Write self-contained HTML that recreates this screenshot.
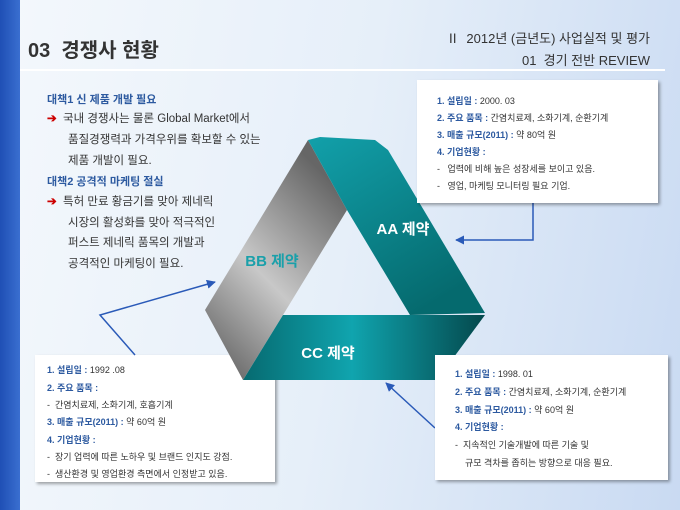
<!DOCTYPE html>
<html><head><meta charset="utf-8"><style>
body{margin:0;width:680px;height:510px;overflow:hidden;font-family:"Liberation Sans","Noto Sans CJK KR",sans-serif;}
#bg{position:absolute;left:0;top:0;width:680px;height:510px;background:linear-gradient(100deg,#f4f8fc 0%,#e6eff9 50%,#c9daf2 100%);}
.strip{position:absolute;left:0;top:0;width:20px;height:510px;background:linear-gradient(90deg,#1f4fb5,#3a6fd0);}
.t{position:absolute;white-space:nowrap;}
.box{position:absolute;background:#fff;box-shadow:2px 2px 3px rgba(0,0,0,.35);}
.box div{position:absolute;white-space:nowrap;font-size:9px;color:#333;}
b.k{color:#2d5aa0;}
.lt{font-size:11.5px;color:#333;}
.lh{font-size:11px;color:#2d5aa0;font-weight:bold;}
</style></head><body>
<div id="bg"></div>
<div class="strip"></div>
<div class="t" style="left:28px;top:34px;font-size:20px;color:#333;font-weight:bold;">03&nbsp;&nbsp;경쟁사 현황</div>
<div class="t" style="right:30px;top:28px;font-size:13px;color:#333;">Ⅱ&nbsp; 2012년 (금년도) 사업실적 및 평가</div>
<div class="t" style="right:30px;top:50px;font-size:13px;color:#333;">01&nbsp; 경기 전반 REVIEW</div>
<div style="position:absolute;left:20px;top:69px;width:645px;height:2px;background:#fff;"></div>

<div class="t lh" style="left:47px;top:91px;">대책1 신 제품 개발 필요</div>
<div class="t lt" style="left:47px;top:110px;"><span style="color:#c00;font-weight:bold;">➔</span>&nbsp; 국내 경쟁사는 물론 Global Market에서</div>
<div class="t lt" style="left:68px;top:131px;">품질경쟁력과 가격우위를 확보할 수 있는</div>
<div class="t lt" style="left:68px;top:152px;">제품 개발이 필요.</div>
<div class="t lh" style="left:47px;top:173px;">대책2 공격적 마케팅 절실</div>
<div class="t lt" style="left:47px;top:193px;"><span style="color:#c00;font-weight:bold;">➔</span>&nbsp; 특허 만료 황금기를 맞아 제네릭</div>
<div class="t lt" style="left:68px;top:214px;">시장의 활성화를 맞아 적극적인</div>
<div class="t lt" style="left:68px;top:234px;">퍼스트 제네릭 품목의 개발과</div>
<div class="t lt" style="left:68px;top:255px;">공격적인 마케팅이 필요.</div>

<div class="box" style="left:35px;top:355px;width:240px;height:127px;">
<div style="left:12px;top:8px;"><b class="k">1. 설립일 :</b> 1992 .08</div>
<div style="left:12px;top:26px;"><b class="k">2. 주요 품목 :</b></div>
<div style="left:12px;top:43px;">-&nbsp; 간염치료제, 소화기계, 호흡기계</div>
<div style="left:12px;top:60px;"><b class="k">3. 매출 규모(2011) :</b> 약 60억 원</div>
<div style="left:12px;top:78px;"><b class="k">4. 기업현황 :</b></div>
<div style="left:12px;top:95px;">-&nbsp; 장기 업력에 따른 노하우 및 브랜드 인지도 강점.</div>
<div style="left:12px;top:112px;">-&nbsp; 생산환경 및 영업환경 측면에서 인정받고 있음.</div>
</div>

<svg style="position:absolute;left:0;top:0" width="680" height="510">
<defs>
<linearGradient id="g" x1="0" y1="1" x2="0.6" y2="0"><stop offset="0" stop-color="#555"/><stop offset="0.5" stop-color="#c8c8c8"/><stop offset="1" stop-color="#666"/></linearGradient>
<linearGradient id="a" x1="0" y1="0" x2="0.6" y2="1"><stop offset="0" stop-color="#12a0aa"/><stop offset="1" stop-color="#056a6e"/></linearGradient>
<linearGradient id="c" x1="0" y1="0" x2="1" y2="0"><stop offset="0" stop-color="#066a70"/><stop offset="0.45" stop-color="#10a4ae"/><stop offset="1" stop-color="#04484c"/></linearGradient>
<marker id="m" viewBox="0 0 10 10" refX="9" refY="5" markerWidth="6" markerHeight="6" orient="auto"><path d="M0,0L10,5L0,10z" fill="#2a5ab8"/></marker>
</defs>
<polygon points="308,140 347,210 283,315 243,380 205,310" fill="url(#g)"/>
<polygon points="308,140 320,137 375,140 388,150 485,313 410,315 347,210" fill="url(#a)"/>
<polygon points="283,315 485,315 437,380 243,380" fill="url(#c)"/>
<polyline points="533,203 533,240 456,240" fill="none" stroke="#2a5ab8" stroke-width="1.5" marker-end="url(#m)"/>
<polyline points="135,355 100,315 215,282" fill="none" stroke="#2a5ab8" stroke-width="1.5" marker-end="url(#m)"/>
<line x1="435" y1="428" x2="386" y2="383" stroke="#2a5ab8" stroke-width="1.5" marker-end="url(#m)"/>
<text x="403" y="234" fill="#fff" font-size="15" font-weight="bold" text-anchor="middle" font-family="Liberation Sans,Noto Sans CJK KR,sans-serif">AA 제약</text>
<text x="272" y="266" fill="#1aa0aa" font-size="15" font-weight="bold" text-anchor="middle" font-family="Liberation Sans,Noto Sans CJK KR,sans-serif">BB 제약</text>
<text x="328" y="358" fill="#fff" font-size="15" font-weight="bold" text-anchor="middle" font-family="Liberation Sans,Noto Sans CJK KR,sans-serif">CC 제약</text>
</svg>

<div class="box" style="left:417px;top:80px;width:241px;height:123px;">
<div style="left:20px;top:14px;"><b class="k">1. 설립일 :</b> 2000. 03</div>
<div style="left:20px;top:31px;"><b class="k">2. 주요 품목 :</b> 간염치료제, 소화기계, 순환기계</div>
<div style="left:20px;top:48px;"><b class="k">3. 매출 규모(2011) :</b> 약 80억 원</div>
<div style="left:20px;top:65px;"><b class="k">4. 기업현황 :</b></div>
<div style="left:20px;top:82px;">-&nbsp;&nbsp; 업력에 비해 높은 성장세를 보이고 있음.</div>
<div style="left:20px;top:99px;">-&nbsp;&nbsp; 영업, 마케팅 모니터링 필요 기업.</div>
</div>

<div class="box" style="left:435px;top:355px;width:233px;height:125px;">
<div style="left:20px;top:12px;"><b class="k">1. 설립일 :</b> 1998. 01</div>
<div style="left:20px;top:30px;"><b class="k">2. 주요 품목 :</b> 간염치료제, 소화기계, 순환기계</div>
<div style="left:20px;top:48px;"><b class="k">3. 매출 규모(2011) :</b> 약 60억 원</div>
<div style="left:20px;top:65px;"><b class="k">4. 기업현황 :</b></div>
<div style="left:20px;top:83px;">-&nbsp; 지속적인 기술개발에 따른 기술 및</div>
<div style="left:30px;top:101px;">규모 격차를 좁히는 방향으로 대응 필요.</div>
</div>
</body></html>
